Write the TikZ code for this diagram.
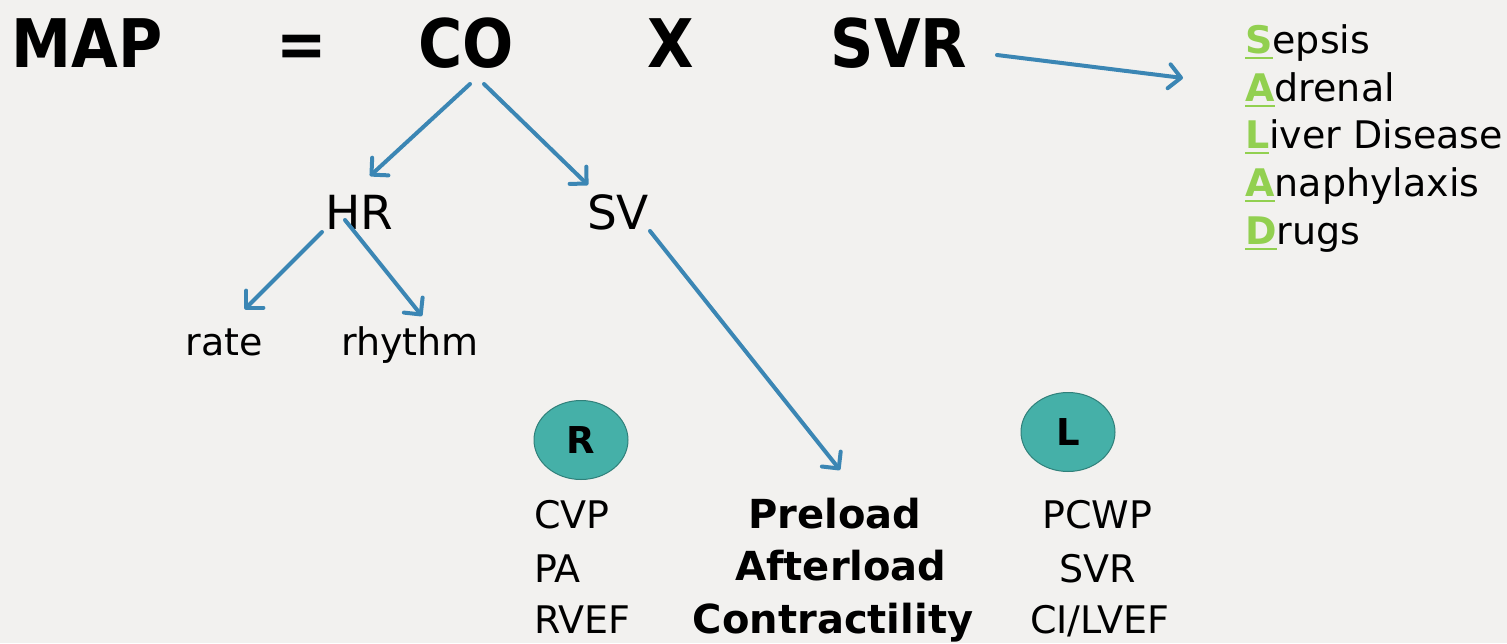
\documentclass[tikz,border=0pt]{standalone}
\usepackage{fontspec}
\setmainfont{DejaVu Sans}
\newfontfamily\titlefont{DejaVu Sans Condensed}
\usetikzlibrary{arrows.meta,shapes.geometric}
\definecolor{bg}{RGB}{242,241,239}
\definecolor{arrowblue}{RGB}{59,134,180}
\definecolor{salad}{RGB}{146,208,80}
\definecolor{lobefill}{RGB}{69,176,168}
\definecolor{lobeedge}{RGB}{48,128,122}
% green, bold, underlined initial of a mnemonic line
\newcommand\saladletter[1]{{\color{salad}\bfseries\setbox0\hbox{#1}\rlap{\rule[-6pt]{\wd0}{2.5pt}}\box0}}
\begin{document}
\begin{tikzpicture}[x=1pt,y=-1pt,
  title/.style={inner sep=0pt, anchor=base, font=\titlefont\bfseries\fontsize{67}{67}\selectfont},
  factor/.style={inner sep=0pt, anchor=base, font=\fontsize{47}{47}\selectfont},
  leaf/.style={inner sep=0pt, anchor=base, font=\fontsize{38}{38}\selectfont},
  measure/.style={inner sep=0pt, anchor=base west, font=\fontsize{38}{38}\selectfont},
  load/.style={inner sep=0pt, anchor=base, font=\bfseries\fontsize{40}{40}\selectfont},
  salad/.style={inner sep=0pt, anchor=base west, font=\fontsize{38}{38}\selectfont},
  lobe/.style={ellipse, draw=lobeedge, line width=1pt, fill=lobefill,
    minimum width=94pt, minimum height=79pt, inner sep=0pt,
    font=\bfseries\fontsize{37}{37}\selectfont},
  flow/.style={draw=arrowblue, line width=4pt, line cap=round,
    -{Straight Barb[length=12pt,width=24pt,line cap=round,line join=round]}}]

\useasboundingbox[fill=bg] (0,0) rectangle (1507,643);

% equation
\node[title] (map) at (87,67) {MAP};
\node[title] (eq)  at (302,67) {=};
\node[title] (co)  at (466,67) {CO};
\node[title] (x)   at (671,67) {X};
\node[title] (svr) at (899,67) {SVR};

% cardiac output factors
\node[factor] (hr) at (359,229) {HR};
\node[factor] (sv) at (618,229) {SV};
\node[leaf] (rate)   at (224,355) {rate};
\node[leaf] (rhythm) at (410,355) {rhythm};

% SALAD mnemonic
\node[salad] (s1) at (1245,53)  {\saladletter{S}epsis};
\node[salad] (s2) at (1245,101) {\saladletter{A}drenal};
\node[salad] (s3) at (1245,148) {\saladletter{L}iver Disease};
\node[salad] (s4) at (1245,196) {\saladletter{A}naphylaxis};
\node[salad] (s5) at (1245,244) {\saladletter{D}rugs};

% right and left heart
\node[lobe] (rh) at (581,440) {R};
\node[lobe] (lh) at (1068,432) {L};

\node[measure] (cvp)  at (534,528) {CVP};
\node[measure] (pa)   at (534,582) {PA};
\node[measure] (rvef) at (534,633) {RVEF};

\node[measure] (pcwp)  at (1042,528) {PCWP};
\node[measure] (svr2)  at (1059,582) {SVR};
\node[measure] (lvef)  at (1030,633) {CI/LVEF};

\node[load] (pre)  at (835,528) {Preload};
\node[load] (aft)  at (841,580) {Afterload};
\node[load] (con)  at (833,633) {Contractility};

% connectors
\draw[flow] ([shift={(4,17)}]co.base)  -- ([shift={(11,-53)}]hr.base);
\draw[flow] ([shift={(18,17)}]co.base) -- ([shift={(-30,-44)}]sv.base);
\draw[flow] ([shift={(-37,3)}]hr.base) -- ([shift={(21,-46)}]rate.base);
\draw[flow] ([shift={(-14,-9)}]hr.base) -- ([shift={(12,-39)}]rhythm.base);
\draw[flow] ([shift={(32,2)}]sv.base) -- ([shift={(5,-58)}]pre.base);
\draw[flow] ([shift={(98,-12)}]svr.base) -- ([shift={(-62,-23)}]s2.base west);
\end{tikzpicture}
\end{document}
